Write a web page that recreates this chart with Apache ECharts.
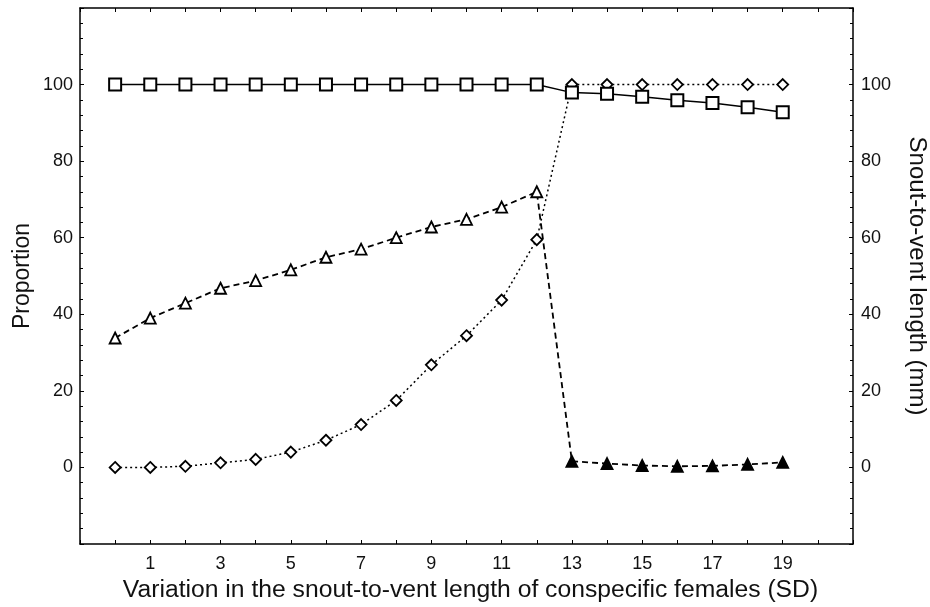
<!DOCTYPE html>
<html>
<head>
<meta charset="utf-8">
<script src="https://cdn.jsdelivr.net/npm/echarts@6/dist/echarts.min.js"></script>
<style>
html,body{margin:0;padding:0;background:#fff;}
#chart{width:930px;height:607px;}
</style>
</head>
<body>
<div id="chart"></div>
<script>
var sdSteps = [0,1,2,3,4,5,6,7,8,9,10,11,12,13,14,15,16,17,18,19];
// snout-to-vent length (squares, solid)
var svlValues = [100,100,100,100,100,100,100,100,100,100,100,100,100,97.9,97.6,96.8,95.9,95.2,94.1,92.8];
// proportion (triangles, dashed): open up to 12, filled after
var triValues = [33.8,39.0,42.9,46.8,48.8,51.6,54.9,57.0,60.0,62.8,64.8,68.0,72.0,1.6,1.0,0.5,0.3,0.4,0.8,1.3];
var triFilled = [0,0,0,0,0,0,0,0,0,0,0,0,0,1,1,1,1,1,1,1];
// proportion (diamonds, dotted)
var diaValues = [0,0,0.3,1.2,2.1,4.0,7.1,11.2,17.5,26.8,34.4,43.7,59.5,100,100,100,100,100,100,100];
var yTicks = [0,20,40,60,80,100];

var font = 'Liberation Sans';

function pairs(vals){
	var out = [];
	for (var i = 0; i < sdSteps.length; i++) out.push([sdSteps[i], vals[i]]);
	return out;
}

var triData = [];
for (var i = 0; i < sdSteps.length; i++) {
	triData.push({
		value: [sdSteps[i], triValues[i]],
		itemStyle: { color: triFilled[i] ? '#000' : '#fff' }
	});
}

function yLabel(v){
	return yTicks.indexOf(v) >= 0 ? String(v) : '';
}

var axisLineStyle = { color: '#000', width: 1.5 };

var myChart = echarts.init(document.getElementById('chart'));
var option = {
	animation: false,
	backgroundColor: '#fff',
	grid: { left: 80, right: 77, top: 8, bottom: 63, outerBoundsMode: 'none' },
	xAxis: [{
		type: 'value', min: -1, max: 21, interval: 1,
		name: 'Variation in the snout-to-vent length of conspecific females (SD)',
		nameLocation: 'middle', nameGap: 33,
		nameTextStyle: { fontFamily: font, fontSize: 24.7, color: '#111', padding: [0, 0, 0, 8] },
		axisLine: { show: true, onZero: false, lineStyle: axisLineStyle },
		axisTick: { inside: true, length: 4, lineStyle: { color: '#000' } },
		axisLabel: {
			margin: 11, fontFamily: font, fontSize: 18, color: '#111',
			formatter: function(v){ return (v >= 1 && v <= 19 && Math.abs(v % 2) === 1) ? String(v) : ''; }
		},
		splitLine: { show: false }
	},{
		type: 'value', position: 'top', min: -1, max: 21, interval: 1,
		axisLine: { show: true, onZero: false, lineStyle: axisLineStyle },
		axisTick: { inside: true, length: 4, lineStyle: { color: '#000' } },
		axisLabel: { show: false },
		splitLine: { show: false }
	}],
	yAxis: [{
		type: 'value', min: -20, max: 120, interval: 20,
		name: 'Proportion', nameLocation: 'middle', nameGap: 46, nameMoveOverlap: false,
		nameTextStyle: { fontFamily: font, fontSize: 23, color: '#111' },
		axisLine: { show: true, onZero: false, lineStyle: axisLineStyle },
		axisTick: { inside: true, length: 4, lineStyle: { color: '#000' } },
		minorTick: { show: true, splitNumber: 5, length: 3, lineStyle: { color: '#000' } },
		axisLabel: { margin: 7, fontFamily: font, fontSize: 18, color: '#111', formatter: yLabel },
		splitLine: { show: false }
	},{
		type: 'value', position: 'right', min: -20, max: 120, interval: 20,
		name: 'Snout-to-vent length (mm)', nameLocation: 'middle', nameGap: 52, nameRotate: -90,
		nameTextStyle: { fontFamily: font, fontSize: 24, color: '#111' },
		axisLine: { show: true, onZero: false, lineStyle: axisLineStyle },
		axisTick: { inside: true, length: 4, lineStyle: { color: '#000' } },
		minorTick: { show: true, splitNumber: 5, length: 3, lineStyle: { color: '#000' } },
		axisLabel: { margin: 8, fontFamily: font, fontSize: 18, color: '#111', formatter: yLabel },
		splitLine: { show: false }
	}],
	series: [{
		name: 'SVL', type: 'line', yAxisIndex: 1,
		data: pairs(svlValues),
		symbol: 'rect', symbolSize: 12,
		itemStyle: { color: '#fff', borderColor: '#000', borderWidth: 2 },
		lineStyle: { color: '#000', width: 1.5, type: 'solid' },
		z: 3
	},{
		name: 'Triangles', type: 'line',
		data: triData,
		symbol: 'triangle', symbolSize: 11,
		itemStyle: { color: '#fff', borderColor: '#000', borderWidth: 1.8 },
		lineStyle: { color: '#000', width: 1.8, type: [6, 4] },
		z: 2
	},{
		name: 'Diamonds', type: 'line',
		data: pairs(diaValues),
		symbol: 'diamond', symbolSize: 11,
		itemStyle: { color: '#fff', borderColor: '#000', borderWidth: 1.8 },
		lineStyle: { color: '#000', width: 1.5, type: [2, 3] },
		z: 2
	}]
};
myChart.setOption(option);
</script>
</body>
</html>
